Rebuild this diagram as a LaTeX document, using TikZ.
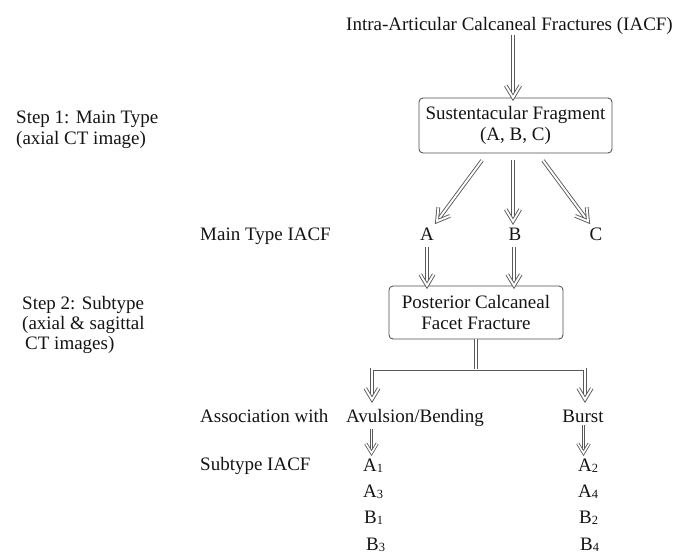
\documentclass[tikz,border=0pt]{standalone}
\usepackage{fontspec}
\setmainfont{Liberation Serif}
\usetikzlibrary{calc}
\newcommand\sbs[1]{\raisebox{-1.5pt}{\fontsize{12.5}{12.5}\selectfont #1}}
% head of a double-lined arrow: #1 style, #2 tip, #3 point it comes from, #4 arm length
\newcommand\dhead[4]{%
  \draw[#1, line join=miter, miter limit=10]
    ($(#2)!#4!31:(#3)$) -- (#2) -- ($(#2)!#4!-31:(#3)$);}
% full double-lined arrow: #1 style, #2 start, #3 tip, #4 arm length
\newcommand\darr[4]{%
  \draw[#1] (#2) -- ($(#3)!2.5pt!(#2)$);
  \dhead{#1}{#3}{#2}{#4}}
\begin{document}
\begin{tikzpicture}[x=1pt,y=-1pt,
  txt/.style={font=\fontsize{19}{21}\selectfont, inner sep=0pt, text=black!92},
  box/.style={draw=black!70, line width=0.85pt, rounded corners=4pt, align=center,
    font=\fontsize{19}{21}\selectfont, inner sep=0pt, text=black!92},
  dline/.style={draw=black!65, line width=0.9pt, double=white, double distance=1.9pt},
  dlines/.style={draw=black!65, line width=0.8pt, double=white, double distance=1.6pt},
]
\useasboundingbox (0,0) rectangle (675,553);

% left column labels
\node[txt, anchor=base west] (step1a) at (16,124) {Step 1: Main Type};
\node[txt, anchor=base west] (step1b) at (16,145) {(axial CT image)};
\node[txt, anchor=base west] (step2a) at (22,310) {Step 2: Subtype};
\node[txt, anchor=base west] (step2b) at (22,330) {(axial \& sagittal};
\node[txt, anchor=base west] (step2c) at (25,350) {CT images)};
\node[txt, anchor=base west] (mainlbl) at (200,241) {Main Type IACF};
\node[txt, anchor=base west] (assoc) at (200,422) {Association with};
\node[txt, anchor=base west] (sublbl) at (200,470) {Subtype IACF};

% main flow
\node[txt, anchor=base] (title) at (509.5,31) {Intra-Articular Calcaneal Fractures (IACF)};
\node[box, minimum width=193pt, minimum height=55pt] (sust) at (515.5,125.5)
  {Sustentacular Fragment\\(A, B, C)};
\node[txt, anchor=base] (nA) at (427,241) {A};
\node[txt, anchor=base] (nB) at (515,241) {B};
\node[txt, anchor=base] (nC) at (596,241) {C};
\node[box, minimum width=174pt, minimum height=53pt] (post) at (476,312.5)
  {Posterior Calcaneal\\Facet Fracture};
\node[txt, anchor=base] (avul) at (415,422) {Avulsion/Bending};
\node[txt, anchor=base] (burst) at (583,422) {Burst};

% subtypes
\node[txt, anchor=base west] (a1) at (363,471) {A\sbs{1}};
\node[txt, anchor=base west] (a3) at (363,497) {A\sbs{3}};
\node[txt, anchor=base west] (b1) at (364,523) {B\sbs{1}};
\node[txt, anchor=base west] (b3) at (366,550) {B\sbs{3}};
\node[txt, anchor=base west] (a2) at (578,471) {A\sbs{2}};
\node[txt, anchor=base west] (a4) at (578,497) {A\sbs{4}};
\node[txt, anchor=base west] (b2) at (579,523) {B\sbs{2}};
\node[txt, anchor=base west] (b4) at (580,550) {B\sbs{4}};

% connector end points
\coordinate (tS) at (title.south -| 513,0);
\coordinate (tE) at (sust.north -| 513,0);
\coordinate (sL) at ($(sust.south)+(-33.5,7)$);
\coordinate (sM) at ($(sust.south)+(-2.5,7)$);
\coordinate (sR) at ($(sust.south)+(27.5,7)$);
\coordinate (eL) at ($(nA.north)+(10,-7)$);
\coordinate (eM) at ($(nB.north)+(-2,-7)$);
\coordinate (eR) at ($(nC.north)+(-8,-7)$);
\coordinate (aS) at ($(nA.south)+(0,6)$);
\coordinate (aE) at (post.north -| nA);
\coordinate (bS) at ($(nB.south)+(-1,6)$);
\coordinate (bE) at (post.north -| bS);
\coordinate (stemT) at (post.south);
\coordinate (split) at ($(post.south)+(0,30)$);
\coordinate (hL) at (split -| 372,0);
\coordinate (hR) at (split -| 585,0);
\coordinate (dL) at ($(hL)+(0,30)$);
\coordinate (dR) at ($(hR)+(0,30)$);
\coordinate (vS0) at (avul.south -| 371.5,0);
\coordinate (vS) at ($(vS0)+(0,3)$);
\coordinate (vE) at (371.5,453);
\coordinate (wS0) at (burst.south -| 583.5,0);
\coordinate (wS) at ($(wS0)+(0,3)$);
\coordinate (wE) at (583.5,453);

% connectors
\darr{dline}{tS}{tE}{14pt}
\darr{dline}{sL}{eL}{14pt}
\darr{dline}{sM}{eM}{14pt}
\darr{dline}{sR}{eR}{14pt}
\darr{dline}{aS}{aE}{13pt}
\darr{dline}{bS}{bE}{13pt}
\draw[dline] ($(dL)!2.5pt!(hL)$) -- (hL) -- (hR) -- ($(dR)!2.5pt!(hR)$);
\dhead{dline}{dL}{hL}{13pt}
\dhead{dline}{dR}{hR}{13pt}
\draw[dline] (stemT) -- (split);
\draw[white, line width=1.9pt] ($(split)+(0,-4)$) -- ($(split)+(0,0.3)$);
\darr{dlines}{vS}{vE}{11pt}
\darr{dlines}{wS}{wE}{11pt}
\end{tikzpicture}
\end{document}
